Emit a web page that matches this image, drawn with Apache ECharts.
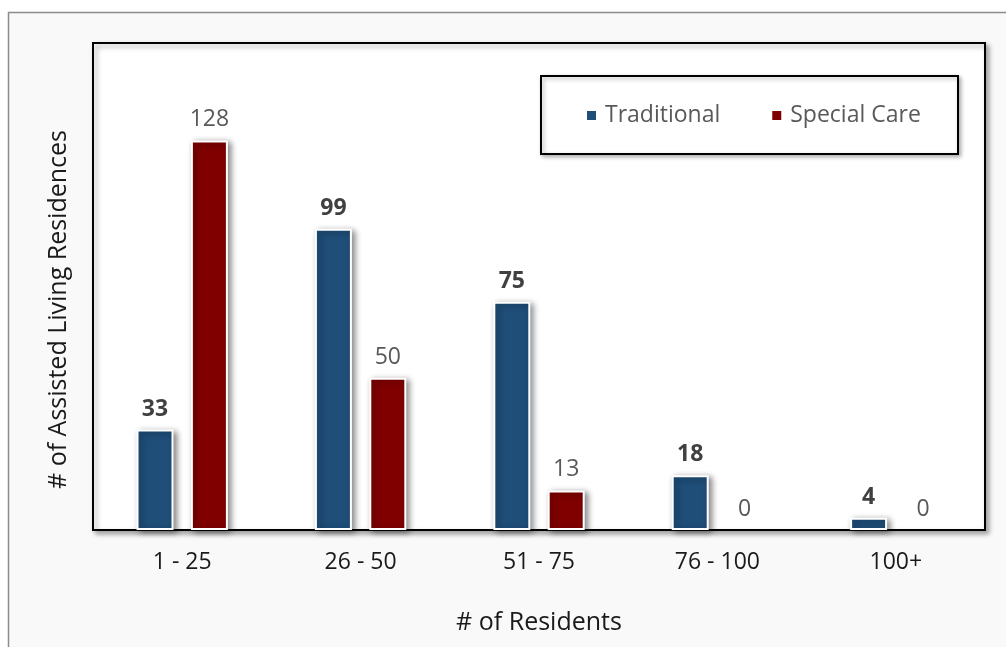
<!DOCTYPE html>
<html>
<head>
<meta charset="utf-8">
<script src="https://cdn.jsdelivr.net/npm/echarts@6/dist/echarts.min.js"></script>
<style>
  html, body { margin: 0; padding: 0; background: #ffffff; }
  #chart { width: 1006px; height: 647px; }
</style>
</head>
<body>
<div id="chart"></div>
<script>
// Residence size bands and counts per residence type
const categories = ['1 - 25', '26 - 50', '51 - 75', '76 - 100', '100+'];
const traditional = [33, 99, 75, 18, 4];
const specialCare = [128, 50, 13, 0, 0];
const seriesNames = ['Traditional', 'Special Care'];

const FONT = '"Open Sans", "Noto Sans", sans-serif';
const BLUE = '#1F4E79';
const RED = '#800000';

const chart = echarts.init(document.getElementById('chart'), null, { renderer: 'canvas' });

const barStyle = color => ({
  color: color,
  borderColor: '#ffffff',
  borderWidth: 2,
  shadowBlur: 6,
  shadowColor: 'rgba(0,0,0,0.45)',
  shadowOffsetX: 3,
  shadowOffsetY: 2
});

// zero-height bars get no outline or shadow, only their label
const asItems = values => values.map(v => v === 0
  ? { value: v, itemStyle: { borderWidth: 0, shadowBlur: 0, shadowOffsetX: 0, shadowOffsetY: 0, shadowColor: 'transparent' } }
  : v);

chart.setOption({
  animation: false,
  backgroundColor: '#ffffff',
  graphic: [
    {
      type: 'rect', z: -10, silent: true,
      shape: { x: 8.5, y: 12.5, width: 1020, height: 660 },
      style: { fill: '#f9f9f9', stroke: '#8c8c8c', lineWidth: 1.5 }
    },
    {
      type: 'rect', z: 100, silent: true,
      shape: { x: 541, y: 76, width: 417, height: 78 },
      style: {
        fill: '#ffffff', stroke: '#000000', lineWidth: 2,
        shadowBlur: 4, shadowColor: 'rgba(0,0,0,0.3)', shadowOffsetX: 2, shadowOffsetY: 2
      }
    }
  ],
  grid: {
    show: true,
    left: 93, right: 21, top: 43, bottom: 117,
    backgroundColor: '#ffffff',
    borderColor: '#000000',
    borderWidth: 2,
    shadowBlur: 5,
    shadowColor: 'rgba(0,0,0,0.35)',
    shadowOffsetX: 3,
    shadowOffsetY: 3
  },
  legend: {
    data: seriesNames,
    left: 580, top: 99,
    z: 110,
    icon: 'rect',
    itemWidth: 11, itemHeight: 11,
    itemGap: 50,
    textStyle: { fontFamily: FONT, fontSize: 23, color: '#595959', padding: [0, 0, 0, 3] }
  },
  xAxis: {
    type: 'category',
    data: categories,
    axisLine: { show: false },
    axisTick: { show: false },
    axisLabel: { fontFamily: FONT, fontSize: 23, color: '#1a1a1a', margin: 21 },
    name: '# of Residents',
    nameLocation: 'middle',
    nameGap: 80,
    nameTextStyle: { fontFamily: FONT, fontSize: 25, color: '#1a1a1a' }
  },
  yAxis: {
    type: 'value',
    min: 0, max: 160,
    axisLine: { show: false },
    axisTick: { show: false },
    axisLabel: { show: false },
    splitLine: { show: false },
    name: '# of Assisted Living Residences',
    nameLocation: 'middle',
    nameGap: 22,
    // right padding moves the rotated title a little below the plot's middle
    nameTextStyle: { fontFamily: FONT, fontSize: 25, color: '#1a1a1a', padding: [0, 46, 0, 0] }
  },
  series: [
    {
      name: seriesNames[0],
      type: 'bar',
      data: asItems(traditional),
      barWidth: 37,
      barGap: '47%',
      itemStyle: barStyle(BLUE),
      label: {
        show: true, position: 'top', distance: 9,
        fontFamily: FONT, fontSize: 23, fontWeight: 'bold', color: '#404040'
      }
    },
    {
      name: seriesNames[1],
      type: 'bar',
      data: asItems(specialCare),
      barWidth: 37,
      itemStyle: barStyle(RED),
      label: {
        show: true, position: 'top', distance: 9,
        fontFamily: FONT, fontSize: 23, color: '#595959'
      }
    }
  ]
});
</script>
</body>
</html>
